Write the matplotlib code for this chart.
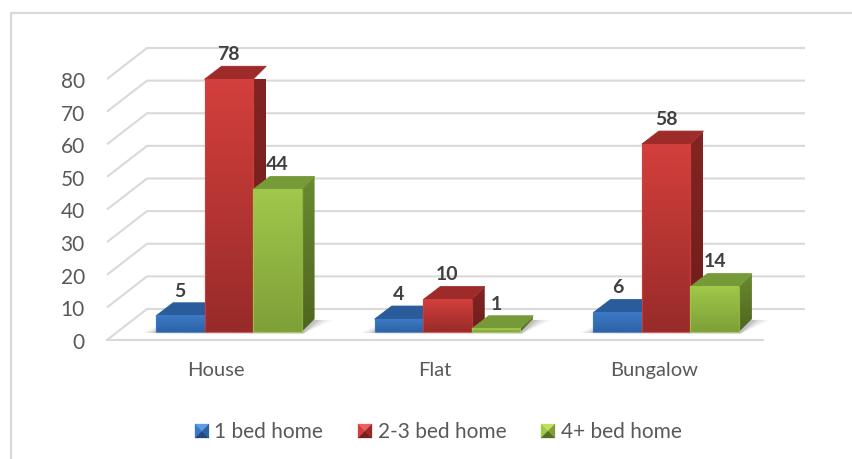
import numpy as np
import matplotlib
matplotlib.use("Agg")
import matplotlib.pyplot as plt
from matplotlib.colors import LinearSegmentedColormap
from matplotlib.lines import Line2D
from matplotlib.patches import Polygon, FancyBboxPatch, Rectangle

categories = ["House", "Flat", "Bungalow"]
series_names = ["1 bed home", "2-3 bed home", "4+ bed home"]
one_bed = [5, 4, 6]
two_three_bed = [78, 10, 58]
four_plus_bed = [44, 1, 14]
y_ticks = [0, 10, 20, 30, 40, 50, 60, 70, 80]

# front top, front bottom, roof, side top, side bottom, legend light, legend dark
palette = [
    ("#3c7ac6", "#2d63a6", "#2a5c9c", "#264f86", "#1f4270", "#5c9ee8", "#1f4a80"),
    ("#d33f3c", "#982b29", "#9c2b29", "#832422", "#6e1e1c", "#f06060", "#7a1f1d"),
    ("#a0c84a", "#7f9f38", "#779a38", "#6a8a30", "#4e651f", "#c0e060", "#56701f"),
]

plt.rcParams["font.family"] = ["Lato", "DejaVu Sans"]

W, H = 853, 460
DPI = 100
fig = plt.figure(figsize=(W / DPI, H / DPI), dpi=DPI)

# the axes is the front plane of the 3D box
LEFT, RIGHT, BOTTOM, TOP = 107, 763, 341, 80
ax = fig.add_axes([LEFT / W, 1 - BOTTOM / H, (RIGHT - LEFT) / W, (BOTTOM - TOP) / H])
ax.set_xlim(0, 3)
ax.set_ylim(0, 80)
ax.patch.set_alpha(0)
for s in ax.spines.values():
    s.set_visible(False)

px = 3 / (RIGHT - LEFT)
py = 80 / (BOTTOM - TOP)

# outer frame, only top and left are visible in the picture
fig.add_artist(Line2D([11 / W, 11 / W, 1], [0, 1 - 14 / H, 1 - 14 / H], color="#d9d9d9", lw=1.6))

# grid walls
grid_c = "#d9d9d9"
for v in y_ticks:
    ax.plot([0, 40 * px, (805 - LEFT) * px], [v, v + 31 * py, v + 31 * py],
            color=grid_c, lw=1.5, clip_on=False, zorder=1, solid_capstyle="butt")
ax.plot([0, 3], [0, 0], color=grid_c, lw=1.5, clip_on=False, zorder=1)

ax.set_yticks(y_ticks)
ax.set_xticks(np.arange(3) + 0.5)
ax.set_xticklabels(categories, fontsize=14.5, color="#595959")
ax.tick_params(axis="x", length=0, pad=15)
ax.tick_params(axis="y", length=0, pad=16, labelsize=15, labelcolor="#595959")

# bar geometry in pixels
BW = 48.5 * px
SHIFT = 12.5 * px
BASE = 8 * py
DY = 13 * py
DXL = 17 * px
DXR = 13 * px
SCALE = 3.24 / 3.2625


def vgrad(c1, c2):
    return LinearSegmentedColormap.from_list("g", [c2, c1])


def shaded_poly(pts, c1, c2, z, y0, y1):
    # polygon filled with a vertical gradient
    poly = Polygon(pts, closed=True, fc="none", ec="none", zorder=z, clip_on=False)
    ax.add_patch(poly)
    xs = [p[0] for p in pts]
    im = ax.imshow(np.linspace(1, 0, 64).reshape(-1, 1), cmap=vgrad(c1, c2), aspect="auto",
                   extent=[min(xs), max(xs), y0, y1], zorder=z, origin="upper", clip_on=True)
    im.set_clip_path(poly)


def draw_shadow(x0, x1):
    # soft floor shadow, stacked see-through polygons
    for grow, a in zip([14, 10, 6, 3], [0.05, 0.08, 0.1, 0.12]):
        g = grow * px
        pts = [(x0 - g, BASE - 1 * py), (x0 + DXL, BASE + DY), (x1 + DXR + g * 1.3, BASE + DY - 1 * py),
               (x1 + 2 * px, BASE - 1.5 * py)]
        ax.add_patch(Polygon(pts, closed=True, fc="#404040", ec="none", alpha=a, zorder=2, clip_on=False))


def draw_bar(x0, val, colors, z):
    front1, front2, roof, side1, side2, _, _ = colors
    x1 = x0 + BW
    top = BASE + val * SCALE
    # side face
    shaded_poly([(x1, BASE), (x1 + DXR, BASE + DY), (x1 + DXR, top + DY), (x1, top)],
                side1, side2, z, BASE, top + DY)
    # roof
    ax.add_patch(Polygon([(x0, top), (x0 + DXL, top + DY), (x1 + DXR, top + DY), (x1, top)],
                         closed=True, fc=roof, ec=roof, lw=0.6, joinstyle="round", zorder=z + 0.1,
                         clip_on=False))
    # front with slightly rounded corners and light edge
    box = FancyBboxPatch((x0 + 1 * px, BASE + 1 * py), BW - 2 * px, top - BASE - 2 * py,
                         boxstyle="square,pad=0", fc="none", ec="none", zorder=z + 0.2, clip_on=False)
    ax.add_patch(box)
    im = ax.imshow(np.linspace(1, 0, 64).reshape(-1, 1), cmap=vgrad(front1, front2), aspect="auto",
                   extent=[x0, x1, BASE, top], zorder=z + 0.2, origin="upper")
    ax.add_patch(Rectangle((x0, BASE), BW, top - BASE, fc="none", ec=front1, lw=0.9, alpha=0.75,
                           zorder=z + 0.3, clip_on=False))
    return top


all_series = [one_bed, two_three_bed, four_plus_bed]
for i, cat in enumerate(categories):
    left = i + 0.5 + SHIFT - 1.5 * BW
    draw_shadow(left, left + 3 * BW)
    for j, vals in enumerate(all_series):
        x0 = left + j * BW
        top = draw_bar(x0, vals[i], palette[j], 3 + j + i * 3)
        ax.annotate(str(vals[i]), (x0 + BW / 2, top), xytext=(0, 18.5), textcoords="offset points",
                    ha="center", va="center", fontsize=14, fontweight="bold", color="#404040",
                    zorder=30, annotation_clip=False)

# imshow resets limits
ax.set_xlim(0, 3)
ax.set_ylim(0, 80)

# legend, small bevelled squares
legend_x = [195, 358, 541]
text_x = [214, 378, 561]
for k, name in enumerate(series_names):
    x, y, s = legend_x[k], 425, 14
    light, dark = palette[k][5], palette[k][6]
    mid = (x + s / 2, y + s / 2)
    faces = [([(x, y), (x + s, y), mid], light),
             ([(x, y), mid, (x, y + s)], palette[k][0]),
             ([(x + s, y), mid, (x + s, y + s)], palette[k][1]),
             ([(x, y + s), (x + s, y + s), mid], dark)]
    for pts, c in faces:
        fp = [(a / W, 1 - b / H) for a, b in pts]
        fig.add_artist(Polygon(fp, closed=True, fc=c, ec=c, lw=0.2, transform=fig.transFigure))
    fig.text(text_x[k] / W, 1 - 432 / H, name, fontsize=15, color="#595959", ha="left", va="center")

fig.savefig("out.png", dpi=DPI)
